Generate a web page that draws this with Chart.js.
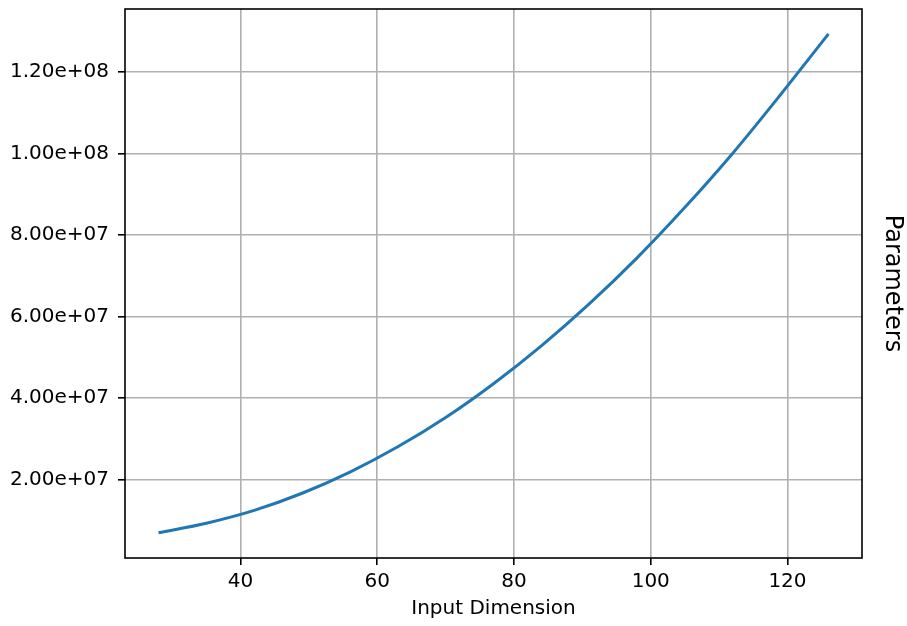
<!DOCTYPE html>
<html>
<head>
<meta charset="utf-8">
<script src="https://cdn.jsdelivr.net/npm/chart.js@4.4.0/dist/chart.umd.min.js"></script>
<style>
  html, body { margin: 0; padding: 0; background: #ffffff; }
  #wrap { width: 907px; height: 626px; position: relative; }
</style>
</head>
<body>
<div id="wrap"><canvas id="c" width="907" height="626"></canvas></div>
<script>
// ---- data ----
const inputDims = [28, 35, 42, 49, 56, 63, 70, 77, 84, 91, 98, 105, 112, 119, 126];
const paramCounts = [6.9e6, 9.25e6, 1.24e7, 1.66e7, 2.18e7, 2.80e7, 3.52e7, 4.35e7, 5.28e7, 6.31e7, 7.44e7, 8.68e7, 1.001e8, 1.145e8, 1.294e8];
const xTicks = [40, 60, 80, 100, 120];
const yTicks = [2e7, 4e7, 6e7, 8e7, 1e8, 1.2e8];
const xTitle = 'Input Dimension';
const yTitle = 'Parameters';

const points = inputDims.map((d, i) => ({ x: d, y: paramCounts[i] }));

function sci(v) {
  return v.toExponential(2).replace(/e([+-])(\d)$/, 'e$10$2');
}

const framePlugin = {
  id: 'frame',
  afterDatasetsDraw(chart) {
    const { ctx, chartArea: a } = chart;
    ctx.save();
    ctx.strokeStyle = '#000000';
    ctx.lineWidth = 1.6;
    ctx.strokeRect(a.left, a.top, a.right - a.left, a.bottom - a.top);
    ctx.restore();
  }
};

Chart.defaults.font.family = '"DejaVu Sans", sans-serif';
Chart.defaults.color = '#000000';

function noPadV(s, w) { s.width = w; s.paddingTop = 0; s.paddingBottom = 0; }

new Chart(document.getElementById('c'), {
  type: 'line',
  data: {
    datasets: [{
      data: points,
      borderColor: '#1f77b4',
      borderWidth: 3,
      pointRadius: 0,
      fill: false,
      cubicInterpolationMode: 'monotone'
    }]
  },
  options: {
    responsive: false,
    animation: false,
    layout: { padding: { top: 9, left: 0, right: 0, bottom: 0 } },
    plugins: { legend: { display: false }, tooltip: { enabled: false } },
    scales: {
      x: {
        type: 'linear',
        position: 'bottom',
        min: 23.1,
        max: 130.9,
        afterBuildTicks: s => { s.ticks = xTicks.map(v => ({ value: v })); },
        afterFit: s => { s.height = 68; s.paddingLeft = 0; s.paddingRight = 0; },
        ticks: { font: { size: 20 }, padding: 5, maxRotation: 0, color: '#000' },
        grid: { color: '#b0b0b0', lineWidth: 1.6, tickLength: 7, tickColor: '#000', tickWidth: 1.6 },
        border: { display: false },
        title: { display: true, text: xTitle, font: { size: 20 }, padding: { top: 0, bottom: 5 }, color: '#000' }
      },
      y: {
        type: 'linear',
        position: 'left',
        min: 7e5,
        max: 1.355e8,
        afterBuildTicks: s => { s.ticks = yTicks.map(v => ({ value: v })); },
        afterFit: s => noPadV(s, 125),
        ticks: { font: { size: 20 }, padding: 9, color: '#000', callback: v => sci(v) },
        grid: { color: '#b0b0b0', lineWidth: 1.6, tickLength: 7, tickColor: '#000', tickWidth: 1.6 },
        border: { display: false }
      },
      y2: {
        type: 'linear',
        position: 'right',
        min: 7e5,
        max: 1.355e8,
        afterFit: s => noPadV(s, 45),
        ticks: { display: false },
        grid: { display: false, drawTicks: false },
        border: { display: false },
        title: { display: true, text: yTitle, font: { size: 24 }, padding: 0, color: '#000' }
      }
    }
  },
  plugins: [framePlugin]
});
</script>
</body>
</html>
